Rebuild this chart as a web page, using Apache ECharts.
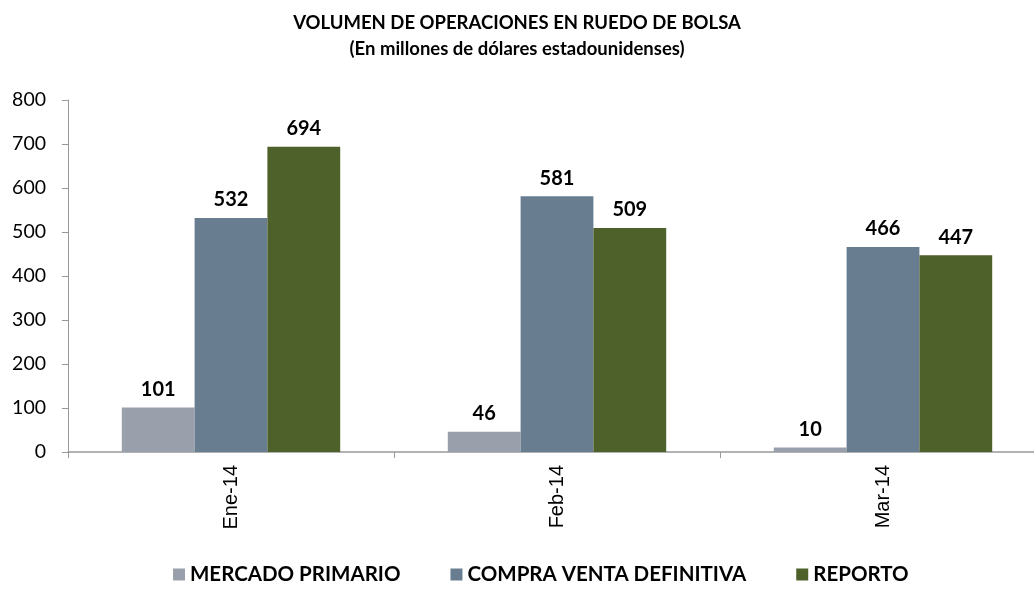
<!DOCTYPE html>
<html>
<head>
<meta charset="utf-8">
<script src="https://cdn.jsdelivr.net/npm/echarts@6/dist/echarts.min.js"></script>
<style>html,body{margin:0;padding:0;background:#fff;}#c{width:1034px;height:592px;}</style>
</head>
<body>
<div id="c"></div>
<script>
const categories = ['Ene-14', 'Feb-14', 'Mar-14'];
const seriesNames = ['MERCADO PRIMARIO', 'COMPRA VENTA DEFINITIVA', 'REPORTO'];
const mercadoPrimario = [101, 46, 10];
const compraVenta = [532, 581, 466];
const reporto = [694, 509, 447];
const yTicks = [0, 100, 200, 300, 400, 500, 600, 700, 800];

const colors = ['#9aa0ab', '#687e90', '#4f612a'];
const FONT = 'Lato, "Open Sans", sans-serif';
const chart = echarts.init(document.getElementById('c'));
const values = [mercadoPrimario, compraVenta, reporto];
chart.setOption({
  animation: false,
  textStyle: { fontFamily: FONT },
  title: {
    text: 'VOLUMEN DE OPERACIONES EN RUEDO DE BOLSA\n(En millones de dólares estadounidenses)',
    left: 'center', top: 5,
    textStyle: { fontFamily: FONT, fontSize: 18.5, fontWeight: 'bold', color: '#000', lineHeight: 26 }
  },
  legend: {
    bottom: 2, left: 168,
    itemWidth: 12, itemHeight: 12, itemGap: 50,
    icon: 'rect',
    textStyle: { fontFamily: FONT, fontSize: 20.5, fontWeight: 'bold', color: '#000' },
    data: seriesNames
  },
  grid: { left: 68, width: 978, top: 100, bottom: 140, containLabel: false, outerBoundsMode: 'none' },
  xAxis: {
    type: 'category', data: categories,
    axisLine: { lineStyle: { color: '#999', width: 1.5 } },
    axisTick: { show: true, length: 6, lineStyle: { color: '#999' } },
    axisLabel: { rotate: 90, margin: 13, fontFamily: '"Liberation Sans", Arial, sans-serif', fontSize: 20, color: '#000' }
  },
  yAxis: {
    type: 'value', min: yTicks[0], max: yTicks[yTicks.length - 1], interval: 100,
    axisLine: { show: true, lineStyle: { color: '#999' } },
    axisTick: { show: true, length: 6, lineStyle: { color: '#999' } },
    splitLine: { show: false },
    axisLabel: { margin: 22, fontFamily: FONT, fontSize: 19.5, color: '#000' }
  },
  series: seriesNames.map((n, i) => ({
    name: n, type: 'bar', data: values[i],
    barGap: '0%', barCategoryGap: '33%',
    itemStyle: { color: colors[i] },
    label: { show: true, position: 'top', distance: 8, fontFamily: FONT, fontSize: 20, fontWeight: 'bold', color: '#000' }
  }))
});
</script>
</body>
</html>
